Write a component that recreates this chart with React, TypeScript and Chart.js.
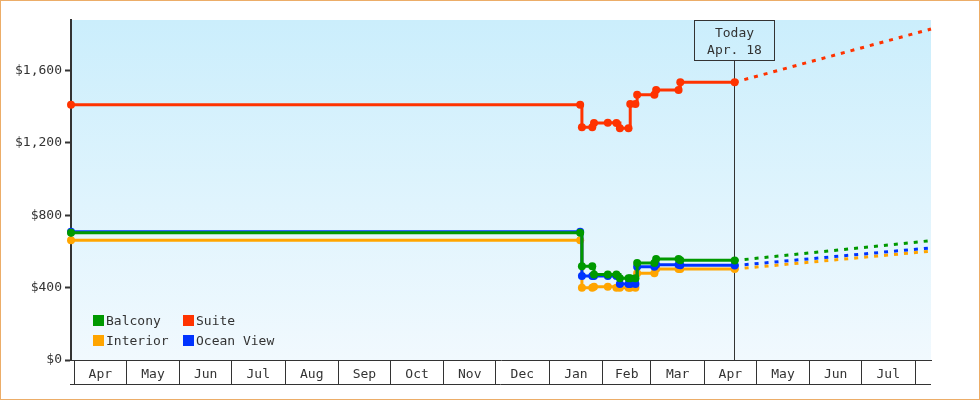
import React, { useEffect, useRef } from 'react';
import { Chart, registerables } from 'chart.js';

Chart.register(...registerables);

const FONT = '"DejaVu Sans Mono", monospace';
const TEXT = '#333333';

// ---- data ----
const observationDates = [
  '2018-03-30', '2019-01-19', '2019-01-20', '2019-01-26', '2019-01-27',
  '2019-02-04', '2019-02-09', '2019-02-11', '2019-02-16', '2019-02-17',
  '2019-02-20', '2019-02-21', '2019-03-03', '2019-03-04', '2019-03-17',
  '2019-03-18', '2019-04-18T12:00',
];
const balconyPrices = [704, 704, 519, 519, 473, 473, 473, 452, 452, 452, 452, 537, 537, 558, 558, 552, 550];
const oceanViewPrices = [709, 709, 464, 464, 464, 464, 464, 420, 420, 420, 420, 515, 515, 527, 527, 524, 522];
const interiorPrices = [662, 662, 400, 400, 405, 405, 400, 400, 400, 400, 400, 480, 480, 503, 503, 503, 503];
const suitePrices = [1411, 1411, 1287, 1287, 1310, 1312, 1310, 1282, 1282, 1415, 1415, 1466, 1466, 1493, 1493, 1536, 1536];

const todayDate = '2019-04-18T12:00';
const todayLabel = ['Today', 'Apr. 18'];
const forecastDates = [todayDate, '2019-08-10T06:00'];
const balconyForecast = [550, 660];
const oceanViewForecast = [522, 620];
const interiorForecast = [503, 602];
const suiteForecast = [1536, 1830];

const axisStart = '2018-03-30';
const axisEnd = '2019-08-10T06:00';
const monthStarts = [
  '2018-04-01', '2018-05-01', '2018-06-01', '2018-07-01', '2018-08-01', '2018-09-01',
  '2018-10-01', '2018-11-01', '2018-12-01', '2019-01-01', '2019-02-01', '2019-03-01',
  '2019-04-01', '2019-05-01', '2019-06-01', '2019-07-01', '2019-08-01',
];
const monthLabels = ['Apr', 'May', 'Jun', 'Jul', 'Aug', 'Sep', 'Oct', 'Nov', 'Dec', 'Jan', 'Feb', 'Mar', 'Apr', 'May', 'Jun', 'Jul'];
const yTickValues = [0, 400, 800, 1200, 1600];
const yMax = 1880;

const seriesNames = ['Balcony', 'Ocean View', 'Interior', 'Suite'];
const seriesColors = ['#009900', '#0033ff', '#ffa500', '#ff3300'];
const legendOrder = ['Balcony', 'Suite', 'Interior', 'Ocean View'];

// ---- helpers ----
const toMs = (s: string) => Date.parse(s.includes('T') ? s + ':00Z' : s + 'T00:00:00Z');

const boundaryValues = monthStarts.map(toMs);
const labelByValue = new Map<number, string>();
monthLabels.forEach((lab, i) => {
  labelByValue.set((boundaryValues[i] + boundaryValues[i + 1]) / 2, lab);
});
const boundarySet = new Set(boundaryValues);
const xTickValues = [...boundaryValues, ...Array.from(labelByValue.keys())].sort((a, b) => a - b);

const seriesValues = [balconyPrices, oceanViewPrices, interiorPrices, suitePrices];
const seriesForecasts = [balconyForecast, oceanViewForecast, interiorForecast, suiteForecast];

const bgPlugin = {
  id: 'bgPlugin',
  beforeDraw(chart: any) {
    const { ctx, chartArea: a } = chart;
    const g = ctx.createLinearGradient(0, a.top, 0, a.bottom);
    g.addColorStop(0, '#cbeefc');
    g.addColorStop(1, '#f1f9fe');
    ctx.save();
    ctx.fillStyle = g;
    ctx.fillRect(a.left, a.top, a.right - a.left, a.bottom - a.top);
    ctx.restore();
  },
};

const todayPlugin = {
  id: 'todayPlugin',
  beforeDatasetsDraw(chart: any) {
    const { ctx, chartArea: a, scales } = chart;
    const x = Math.round(scales.x.getPixelForValue(toMs(todayDate))) - 0.5;
    const boxW = 80;
    const boxTop = a.top + 0.5;
    const boxH = 40;
    ctx.save();
    ctx.strokeStyle = TEXT;
    ctx.lineWidth = 1;
    ctx.strokeRect(x - boxW / 2, boxTop, boxW, boxH);
    ctx.beginPath();
    ctx.moveTo(x, boxTop + boxH);
    ctx.lineTo(x, a.bottom);
    ctx.stroke();
    ctx.fillStyle = TEXT;
    ctx.font = `13px ${FONT}`;
    ctx.textAlign = 'center';
    ctx.textBaseline = 'alphabetic';
    ctx.fillText(todayLabel[0], x, boxTop + 16);
    ctx.fillText(todayLabel[1], x, boxTop + 33);
    ctx.restore();
  },
};

const legendPlugin = {
  id: 'legendPlugin',
  afterDatasetsDraw(chart: any) {
    const { ctx, chartArea: a } = chart;
    ctx.save();
    ctx.font = `13px ${FONT}`;
    ctx.textAlign = 'left';
    ctx.textBaseline = 'alphabetic';
    legendOrder.forEach((name, i) => {
      const col = i % 2;
      const row = Math.floor(i / 2);
      const bx = a.left + 22 + col * 90;
      const by = a.bottom - 45 + row * 20;
      const color = seriesColors[seriesNames.indexOf(name)];
      ctx.fillStyle = color;
      ctx.fillRect(bx, by, 11, 11);
      ctx.fillStyle = TEXT;
      ctx.fillText(name, bx + 13, by + 10);
    });
    ctx.restore();
  },
};

const framePlugin = {
  id: 'framePlugin',
  afterDraw(chart: any) {
    const { ctx, chartArea: a, scales } = chart;
    ctx.save();
    ctx.strokeStyle = TEXT;
    ctx.lineWidth = 1;
    const yb = Math.round(scales.x.top) + 24.5;
    ctx.beginPath();
    ctx.moveTo(a.left - 1, yb);
    ctx.lineTo(a.right, yb);
    ctx.stroke();
    ctx.strokeStyle = '#ecad68';
    ctx.strokeRect(0.5, 0.5, chart.width - 1, chart.height - 1);
    ctx.restore();
  },
};

export default function App() {
  const ref = useRef<HTMLCanvasElement | null>(null);

  useEffect(() => {
    if (!ref.current) return;
    const datasets: any[] = [];
    seriesNames.forEach((name, si) => {
      datasets.push({
        label: name,
        data: observationDates.map((d, i) => ({ x: toMs(d), y: seriesValues[si][i] })),
        borderColor: seriesColors[si],
        backgroundColor: seriesColors[si],
        pointBackgroundColor: seriesColors[si],
        borderWidth: 3,
        stepped: 'before',
        pointRadius: 4,
        pointHoverRadius: 4,
        pointBorderWidth: 0,
        fill: false,
        clip: false,
        order: si,
      });
    });
    seriesNames.forEach((name, si) => {
      datasets.push({
        label: name + ' forecast',
        data: forecastDates.map((d, i) => ({ x: toMs(d), y: seriesForecasts[si][i] })),
        borderColor: seriesColors[si],
        borderWidth: 3,
        borderDash: [4, 6],
        borderCapStyle: 'butt',
        pointRadius: 0,
        fill: false,
        clip: false,
        order: 10 + si,
      });
    });

    const chart = new Chart(ref.current, {
      type: 'line',
      data: { datasets },
      plugins: [bgPlugin, todayPlugin, legendPlugin, framePlugin],
      options: {
        animation: false,
        responsive: false,
        devicePixelRatio: 1,
        events: [],
        layout: { padding: { left: 0, top: 20, right: 49, bottom: 15 } },
        plugins: { legend: { display: false }, tooltip: { enabled: false } },
        scales: {
          x: {
            type: 'linear',
            min: toMs(axisStart),
            max: toMs(axisEnd),
            afterBuildTicks: (scale: any) => {
              scale.ticks = xTickValues.map((value) => ({ value }));
            },
            afterFit: (scale: any) => {
              scale.height = 25;
            },
            ticks: {
              autoSkip: false,
              maxRotation: 0,
              minRotation: 0,
              padding: -18,
              color: TEXT,
              font: { family: FONT, size: 13 },
              callback: (value: any) => labelByValue.get(Number(value)) ?? '',
            },
            grid: {
              drawOnChartArea: false,
              tickLength: 25,
              tickWidth: 1,
              tickColor: (c: any) => (c.tick && boundarySet.has(c.tick.value) ? TEXT : 'rgba(0,0,0,0)'),
            },
            border: { display: true, color: TEXT, width: 1 },
          },
          y: {
            type: 'linear',
            min: 0,
            max: yMax,
            afterBuildTicks: (scale: any) => {
              scale.ticks = yTickValues.map((value) => ({ value }));
            },
            afterFit: (scale: any) => {
              scale.width = 71;
            },
            ticks: {
              padding: 3,
              color: TEXT,
              font: { family: FONT, size: 13 },
              callback: (value: any) => '$' + Number(value).toLocaleString('en-US'),
            },
            grid: {
              drawOnChartArea: false,
              tickLength: 6,
              tickWidth: 2,
              tickColor: TEXT,
            },
            border: { display: true, color: TEXT, width: 2 },
          },
        },
      } as any,
    });
    return () => chart.destroy();
  }, []);

  return (
    <div style={{ position: 'fixed', left: 0, top: 0, width: 980, height: 400, background: '#ffffff' }}>
      <canvas ref={ref} width={980} height={400} style={{ display: 'block' }} />
    </div>
  );
}
